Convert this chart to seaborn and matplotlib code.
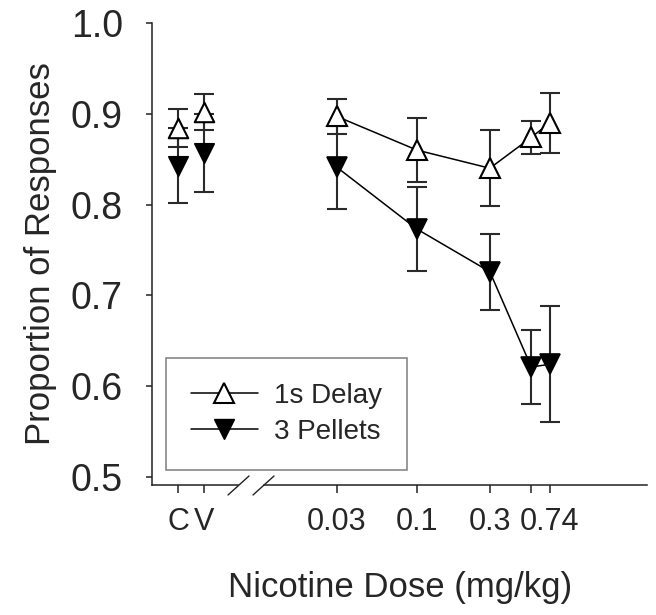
import numpy as np
import pandas as pd
import matplotlib
matplotlib.use("Agg")
import matplotlib.pyplot as plt
from matplotlib.lines import Line2D
import seaborn as sns

# control conditions (left part of the broken axis)
ctrl_labels = ["C", "V"]
ctrl_pos = [1, 2]
ctrl_delay = [0.884, 0.902]
ctrl_delay_se = [0.021, 0.020]
ctrl_pellets = [0.843, 0.857]
ctrl_pellets_se = [0.041, 0.043]

# nicotine doses (log axis)
doses = [0.03, 0.1, 0.3, 0.56, 0.74]
dose_labels = ["0.03", "0.1", "0.3", "", "0.74"]
delay = [0.897, 0.860, 0.840, 0.874, 0.890]
delay_se = [0.019, 0.035, 0.042, 0.018, 0.033]
pellets = [0.841, 0.773, 0.726, 0.621, 0.624]
pellets_se = [0.046, 0.046, 0.042, 0.041, 0.064]

sns.set_style("ticks")
plt.rcParams['font.family'] = ['Liberation Sans', 'DejaVu Sans']

fig = plt.figure(figsize=(6.56, 6.15), dpi=100)
axL = fig.add_axes([152/656, 1-485/615, (238-152)/656, (485-23)/615])
axR = fig.add_axes([264/656, 1-485/615, (647-264)/656, (485-23)/615])

ms = 14
err_kw = dict(fmt="none", ecolor="#2a2a2a", elinewidth=1.5, capsize=7.5, capthick=1.5)

df = pd.DataFrame({"dose": doses, "delay": delay, "pellets": pellets})

# 3 pellets first so open triangles sit on top
axL.errorbar(ctrl_pos, ctrl_pellets, yerr=ctrl_pellets_se, zorder=2, **err_kw)
axR.errorbar(doses, pellets, yerr=pellets_se, zorder=2, **err_kw)
axR.set_xscale("log")
sns.lineplot(data=df, x="dose", y="pellets", ax=axR, color="black", linewidth=1.1,
             marker="v", markersize=ms, markerfacecolor="black", markeredgecolor="black",
             markeredgewidth=1.2, zorder=3)
sns.scatterplot(x=ctrl_pos, y=ctrl_pellets, ax=axL, marker="v", s=ms**2, color="black",
                edgecolor="black", linewidth=1.2, zorder=3)

axL.errorbar(ctrl_pos, ctrl_delay, yerr=ctrl_delay_se, zorder=4, **err_kw)
axR.errorbar(doses, delay, yerr=delay_se, zorder=4, **err_kw)
sns.lineplot(data=df, x="dose", y="delay", ax=axR, color="black", linewidth=1.1,
             marker="^", markersize=ms, markerfacecolor="white", markeredgecolor="black",
             markeredgewidth=1.5, zorder=5)
sns.scatterplot(x=ctrl_pos, y=ctrl_delay, ax=axL, marker="^", s=ms**2, color="white",
                edgecolor="black", linewidth=1.5, zorder=5)

for ax in (axL, axR):
    ax.set_ylim(0.491, 1.0)
    ax.set_xlabel("")
    ax.set_ylabel("")
    for s in ("top", "right"):
        ax.spines[s].set_visible(False)
    for s in ("left", "bottom"):
        ax.spines[s].set_linewidth(1.1)
        ax.spines[s].set_color("#222222")
    ax.tick_params(axis="x", length=6, width=1.1, color="#222222", labelsize=22, pad=10)
    ax.tick_params(axis="y", length=4, width=1.1, color="#222222", labelsize=27, pad=17)

axL.set_xlim(0, 3.3)
axL.set_xticks(ctrl_pos)
axL.set_xticklabels(ctrl_labels)
axL.set_yticks([0.5, 0.6, 0.7, 0.8, 0.9, 1.0])
axL.set_yticklabels(["0.5", "0.6", "0.7", "0.8", "0.9", "1.0"])
axL.spines["left"].set_bounds(0.491, 1.0)

axR.set_xlim(0.01, 3.2)
axR.set_xticks(doses)
axR.set_xticklabels(dose_labels)
axR.xaxis.set_minor_locator(matplotlib.ticker.NullLocator())
axR.spines["left"].set_visible(False)
axR.set_yticks([])

# axis break marks
for x0 in (228, 253):
    fig.add_artist(Line2D([x0/656, (x0+21)/656], [1-495/615, 1-476/615],
                          color="#222222", linewidth=1.0))

axL.set_ylabel("Proportion of Responses", fontsize=25, labelpad=10)
fig.text(400/656, 1-587/615, "Nicotine Dose (mg/kg)", fontsize=25, ha="center", va="center")

handles = [
    Line2D([], [], color="black", linewidth=1.1, marker="^", markersize=ms,
           markerfacecolor="white", markeredgecolor="black", markeredgewidth=1.5),
    Line2D([], [], color="black", linewidth=1.1, marker="v", markersize=ms,
           markerfacecolor="black", markeredgecolor="black"),
]
leg = fig.legend(handles, ["1s Delay", "3 Pellets"], loc="upper left",
                 bbox_to_anchor=(166/656, 1-358/615), fontsize=20, frameon=True,
                 fancybox=False, framealpha=1, edgecolor="#888888", borderpad=0.9,
                 handlelength=2.4, handletextpad=0.6, labelspacing=0.35, borderaxespad=0)
leg.get_frame().set_linewidth(1.2)

fig.savefig("out.png", dpi=100)
